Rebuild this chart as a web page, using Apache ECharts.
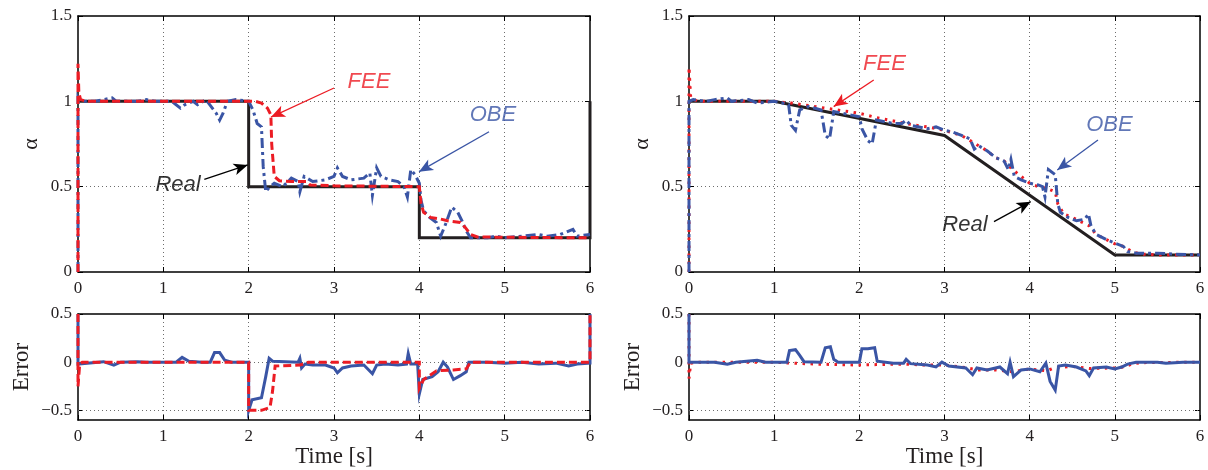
<!DOCTYPE html>
<html>
<head>
<meta charset="utf-8">
<script src="https://cdn.jsdelivr.net/npm/echarts@6/dist/echarts.min.js"></script>
<style>
  html, body { margin: 0; padding: 0; background: #fff; }
  #chart { width: 1208px; height: 470px; }
</style>
</head>
<body>
<div id="chart"></div>
<script>
// ---- tick values ----
const timeTicks = [0, 1, 2, 3, 4, 5, 6];
const alphaTicks = [0, 0.5, 1, 1.5];
const errorTicks = [-0.5, 0, 0.5];
const errorRange = [-0.6, 0.5];

// ---- step reference (left column) ----
const stepRealT = [0, 2, 2, 4, 4, 6, 6];
const stepRealV = [1, 1, 0.5, 0.5, 0.2, 0.2, 1];

const stepFeeT = [0, 0, 0.01, 0.03, 0.1, 2.08, 2.15, 2.22, 2.26, 2.27, 2.3, 2.36, 2.5, 2.68, 2.72, 3.0, 4.0, 4.02, 4.05, 4.13, 4.25, 4.33, 4.48, 4.54, 4.6, 4.68, 6];
const stepFeeV = [0, 1.22, 1.05, 1.01, 1.0, 1.0, 0.99, 0.96, 0.92, 0.75, 0.56, 0.535, 0.53, 0.53, 0.51, 0.505, 0.5, 0.4, 0.35, 0.32, 0.31, 0.3, 0.29, 0.26, 0.22, 0.205, 0.2];

const stepObeT = [0, 0, 0.02, 0.2, 0.3, 0.4, 0.45, 0.7, 0.8, 0.9, 1.1, 1.2, 1.25, 1.35, 1.4, 1.5, 1.62, 1.66, 1.7, 1.75, 1.85, 2.0, 2.05, 2.1, 2.15, 2.17, 2.2, 2.25, 2.3, 2.4, 2.5, 2.58, 2.6, 2.65, 2.75, 2.9, 3.0, 3.04, 3.1, 3.2, 3.35, 3.42, 3.45, 3.5, 3.55, 3.65, 3.75, 3.82, 3.86, 3.9, 3.95, 4.0, 4.02, 4.05, 4.12, 4.2, 4.25, 4.3, 4.38, 4.45, 4.5, 4.55, 4.6, 4.8, 4.9, 5.0, 5.2, 5.4, 5.5, 5.65, 5.8, 5.85, 6.0];
const stepObeV = [0, 1.02, 1.0, 1.0, 1.01, 1.02, 1.0, 1.0, 1.01, 1.0, 1.0, 0.96, 0.98, 1.0, 0.98, 1.01, 0.93, 0.89, 0.93, 1.0, 1.01, 1.0, 0.95, 0.87, 0.85, 0.62, 0.47, 0.5, 0.52, 0.5, 0.55, 0.53, 0.47, 0.56, 0.53, 0.54, 0.56, 0.61, 0.56, 0.54, 0.55, 0.58, 0.45, 0.61, 0.56, 0.54, 0.53, 0.5, 0.44, 0.6, 0.57, 0.52, 0.42, 0.36, 0.32, 0.29, 0.21, 0.27, 0.38, 0.35, 0.3, 0.24, 0.2, 0.2, 0.21, 0.2, 0.21, 0.22, 0.21, 0.22, 0.25, 0.21, 0.22];

const stepErrFeeT = [0, 0, 0.02, 0.05, 2.0, 2.0, 2.15, 2.25, 2.28, 2.31, 2.6, 2.7, 4.0, 4.0, 4.05, 4.2, 4.4, 4.55, 4.6, 6, 6];
const stepErrFeeV = [0.5, -0.25, -0.02, 0, 0, -0.5, -0.5, -0.47, -0.3, -0.04, -0.03, 0, 0, -0.27, -0.18, -0.09, -0.08, -0.07, 0, 0, 0.5];

const stepErrObeT = [0, 0, 0.02, 0.3, 0.42, 0.5, 0.7, 0.8, 1.0, 1.15, 1.22, 1.3, 1.45, 1.55, 1.6, 1.66, 1.72, 1.8, 2.0, 2.0, 2.04, 2.15, 2.2, 2.24, 2.28, 2.3, 2.58, 2.6, 2.62, 2.66, 2.75, 2.9, 3.0, 3.04, 3.1, 3.2, 3.35, 3.45, 3.5, 3.6, 3.75, 3.85, 3.87, 3.9, 3.98, 4.0, 4.04, 4.15, 4.22, 4.28, 4.33, 4.4, 4.48, 4.55, 4.58, 4.8, 5.0, 5.2, 5.4, 5.6, 5.75, 5.85, 6.0, 6.0];
const stepErrObeV = [0.5, -0.02, 0, 0.005, -0.03, 0, 0.005, 0, 0, 0, 0.05, 0.01, 0, 0, 0.1, 0.1, 0.02, 0, 0, -0.5, -0.39, -0.37, -0.15, 0.04, 0.01, 0, 0, 0.04, -0.06, -0.02, -0.03, -0.03, -0.06, -0.11, -0.06, -0.04, -0.03, -0.12, -0.03, -0.02, -0.03, -0.02, 0.09, -0.02, -0.02, -0.33, -0.18, -0.15, -0.1, 0.0, -0.05, -0.18, -0.14, -0.1, 0, 0, -0.01, 0, -0.02, -0.01, -0.04, -0.02, -0.01, 0.5];

// ---- ramp reference (right column) ----
const rampRealT = [0, 1, 3, 5, 6];
const rampRealV = [1, 1, 0.8, 0.1, 0.1];

const rampFeeT = [0, 0, 0.02, 0.1, 1.0, 1.2, 1.4, 1.6, 1.8, 2.0, 2.2, 2.4, 2.6, 2.8, 3.0, 3.2, 3.4, 3.5, 3.6, 3.7, 3.8, 3.9, 4.0, 4.1, 4.2, 4.3, 4.33, 4.4, 4.5, 4.62, 4.7, 4.78, 4.9, 5.0, 5.1, 5.2, 5.3, 5.5, 6.0];
const rampFeeV = [0, 1.2, 1.02, 1.0, 1.0, 0.99, 0.975, 0.96, 0.945, 0.93, 0.905, 0.885, 0.865, 0.85, 0.83, 0.8, 0.74, 0.71, 0.67, 0.65, 0.6, 0.56, 0.52, 0.5, 0.49, 0.47, 0.4, 0.34, 0.32, 0.29, 0.27, 0.22, 0.19, 0.165, 0.15, 0.12, 0.105, 0.1, 0.1];

const rampObeT = [0, 0, 0.05, 0.2, 0.3, 0.45, 0.5, 0.7, 0.8, 1.0, 1.1, 1.17, 1.2, 1.25, 1.3, 1.4, 1.55, 1.6, 1.65, 1.7, 1.8, 2.0, 2.03, 2.1, 2.15, 2.2, 2.4, 2.5, 2.55, 2.6, 2.8, 2.9, 3.0, 3.1, 3.2, 3.3, 3.35, 3.4, 3.5, 3.6, 3.7, 3.75, 3.78, 3.82, 3.9, 4.0, 4.1, 4.15, 4.18, 4.22, 4.3, 4.32, 4.33, 4.36, 4.45, 4.55, 4.65, 4.69, 4.72, 4.78, 4.9, 5.0, 5.1, 5.15, 5.25, 5.5, 5.7, 6.0];
const rampObeV = [0, 1.0, 1.01, 1.0, 1.01, 1.02, 1.0, 1.01, 0.99, 1.0, 0.99, 0.98, 0.86, 0.83, 0.95, 0.97, 0.95, 0.8, 0.78, 0.94, 0.93, 0.91, 0.84, 0.77, 0.75, 0.89, 0.87, 0.87, 0.89, 0.86, 0.84, 0.85, 0.83, 0.82, 0.8, 0.78, 0.72, 0.74, 0.71, 0.67, 0.65, 0.6, 0.66, 0.56, 0.54, 0.52, 0.51, 0.5, 0.44, 0.6, 0.57, 0.58, 0.4, 0.35, 0.32, 0.3, 0.31, 0.34, 0.27, 0.22, 0.19, 0.17, 0.15, 0.12, 0.11, 0.11, 0.105, 0.1];

const rampErrFeeT = [0, 0, 0.02, 0.1, 1.0, 1.2, 1.5, 2.0, 2.2, 2.5, 2.8, 3.0, 3.2, 3.4, 3.6, 3.8, 4.0, 4.2, 4.3, 4.5, 4.7, 5.0, 5.1, 5.2, 5.3, 6.0];
const rampErrFeeV = [0.5, -0.17, -0.01, 0, 0, -0.01, -0.02, -0.03, -0.025, -0.02, -0.03, -0.03, -0.05, -0.08, -0.08, -0.1, -0.07, -0.09, -0.055, -0.045, -0.065, -0.06, -0.05, -0.02, -0.005, 0];

const rampErrObeT = [0, 0, 0.3, 0.45, 0.55, 0.8, 0.9, 1.15, 1.18, 1.25, 1.3, 1.35, 1.55, 1.6, 1.66, 1.7, 1.75, 2.0, 2.03, 2.1, 2.18, 2.21, 2.4, 2.52, 2.55, 2.6, 2.8, 2.9, 2.97, 3.05, 3.25, 3.33, 3.38, 3.5, 3.65, 3.74, 3.77, 3.81, 3.9, 4.0, 4.12, 4.19, 4.24, 4.3, 4.34, 4.42, 4.55, 4.66, 4.7, 4.75, 4.9, 5.0, 5.08, 5.15, 5.25, 5.5, 5.6, 5.8, 6.0];
const rampErrObeV = [0.5, 0, 0, -0.02, 0, 0.02, 0, 0, 0.12, 0.13, 0.07, 0.005, 0, 0.15, 0.16, 0.03, 0, 0, 0.14, 0.14, 0.15, 0.01, -0.01, -0.01, 0.03, -0.015, -0.03, -0.05, 0.0, -0.04, -0.06, -0.13, -0.06, -0.08, -0.05, -0.12, 0.0, -0.15, -0.08, -0.07, -0.1, -0.01, -0.2, -0.29, -0.04, -0.03, -0.05, -0.09, -0.14, -0.06, -0.05, -0.07, -0.05, -0.02, 0, 0, -0.01, 0, 0];

// ---- styling ----
const INK = '#231f20';
const RED = '#ec1c24';
const BLUE = '#3a55a5';
const SERIF = 'Liberation Serif';
const SANS = 'Liberation Sans';
const gridLineStyle = { color: '#6d6d6d', width: 1, type: [1, 3] };
const dashed = [8, 4];
const dashDot = [10, 4, 3, 4];
const dotted = [2.5, 5.5];

const panels = [
  { left: 78, top: 16, width: 512, height: 256 },
  { left: 689, top: 16, width: 511, height: 256 },
  { left: 78, top: 314, width: 512, height: 106 },
  { left: 689, top: 314, width: 511, height: 106 }
];

const pairs = (t, v) => t.map((x, i) => [x, v[i]]);
const minusSign = (v) => String(v).replace('-', '\u2212');

const boxLine = { show: true, onZero: false, lineStyle: { color: '#000', width: 1.5 } };
const innerTick = (custom) => ({ show: true, inside: true, length: 5, customValues: custom, lineStyle: { color: '#000', width: 1 } });
const tickFont = { color: INK, fontFamily: SERIF, fontSize: 17 };
const nameFont = { color: INK, fontFamily: SERIF, fontSize: 23 };

const xAxes = [];
const yAxes = [];
panels.forEach((p, gi) => {
  const lower = gi >= 2;
  const base = { type: 'value', gridIndex: gi, min: timeTicks[0], max: timeTicks[timeTicks.length - 1], interval: timeTicks[1] - timeTicks[0] };
  xAxes.push(Object.assign({}, base, {
    position: 'bottom', axisLine: boxLine, axisTick: innerTick(),
    axisLabel: Object.assign({ margin: 8 }, tickFont),
    splitLine: { show: true, showMinLine: false, showMaxLine: false, lineStyle: gridLineStyle },
    name: lower ? 'Time [s]' : '', nameLocation: 'middle', nameGap: 24, nameTextStyle: nameFont
  }));
  xAxes.push(Object.assign({}, base, {
    position: 'top', axisLine: boxLine, axisTick: innerTick(),
    axisLabel: { show: false }, splitLine: { show: false }
  }));
  const ticks = lower ? errorTicks : alphaTicks;
  const yBase = lower
    ? { type: 'value', gridIndex: gi, min: errorRange[0], max: errorRange[1] }
    : { type: 'value', gridIndex: gi, min: alphaTicks[0], max: alphaTicks[alphaTicks.length - 1], interval: alphaTicks[1] - alphaTicks[0] };
  yAxes.push(Object.assign({}, yBase, {
    position: 'left', axisLine: boxLine, axisTick: innerTick(ticks),
    axisLabel: Object.assign({ margin: 6, customValues: ticks, formatter: minusSign }, tickFont),
    // error panels get their horizontal grid from the tick list below
    splitLine: { show: !lower, showMinLine: false, showMaxLine: false, lineStyle: gridLineStyle },
    name: lower ? 'Error' : '\u03b1', nameLocation: 'middle', nameRotate: 90,
    nameGap: lower ? 45 : 36,
    nameTextStyle: lower ? nameFont : Object.assign({}, nameFont, { fontSize: 22 })
  }));
  yAxes.push(Object.assign({}, yBase, {
    position: 'right', axisLine: boxLine, axisTick: innerTick(ticks),
    axisLabel: { show: false }, splitLine: { show: false }
  }));
});

function line(gi, name, t, v, color, type, width) {
  return {
    type: 'line', name, xAxisIndex: gi * 2, yAxisIndex: gi * 2, z: 2,
    data: pairs(t, v), symbol: 'none', clip: true, silent: true,
    lineStyle: { color, width: width || 3, type, cap: 'butt', join: 'miter' }
  };
}

// dotted horizontal grid for the error panels, at the inner tick values
function errorGrid(gi) {
  return {
    type: 'line', xAxisIndex: gi * 2, yAxisIndex: gi * 2, data: [], silent: true, z: 1,
    markLine: {
      silent: true, symbol: ['none', 'none'], z: 1, animation: false,
      label: { show: false }, lineStyle: gridLineStyle,
      data: errorTicks.filter(v => v > errorRange[0] && v < errorRange[1]).map(v => ({ yAxis: v }))
    }
  };
}

// Labels and arrows pointing at the curves, placed in data space
const notes = [
  { gi: 0, text: 'FEE', color: RED, at: [3.41, 1.113], from: [3.0, 1.078], to: [2.262, 0.908] },
  { gi: 0, text: 'OBE', color: BLUE, at: [4.863, 0.92], from: [4.817, 0.822], to: [3.996, 0.588] },
  { gi: 0, text: 'Real', color: '#000', at: [1.172, 0.51], from: [1.48, 0.543], to: [1.989, 0.627] },
  { gi: 1, text: 'FEE', color: RED, at: [2.295, 1.222], from: [2.169, 1.125], to: [1.699, 0.969] },
  { gi: 1, text: 'OBE', color: BLUE, at: [4.937, 0.861], from: [4.802, 0.773], to: [4.324, 0.598] },
  { gi: 1, text: 'Real', color: '#000', at: [3.24, 0.275], from: [3.581, 0.295], to: [4.012, 0.412] }
];

function noteSeries(gi) {
  const mine = notes.filter(n => n.gi === gi);
  return {
    type: 'scatter', xAxisIndex: gi * 2, yAxisIndex: gi * 2, symbolSize: 0, silent: true, z: 5,
    data: mine.map(n => ({
      name: n.text, value: n.at,
      label: { show: true, position: 'inside', formatter: '{b}', color: n.color, fontFamily: SANS, fontStyle: 'italic', fontSize: 22 }
    })),
    markLine: {
      silent: true, symbol: ['none', 'arrow'], symbolSize: [9, 14], animation: false,
      label: { show: false },
      data: mine.map(n => [
        { coord: n.from, lineStyle: { color: n.color, width: 1.3, type: 'solid' } },
        { coord: n.to }
      ])
    }
  };
}

const series = [
  line(0, 'Real', stepRealT, stepRealV, INK, 'solid'),
  line(0, 'OBE', stepObeT, stepObeV, BLUE, dashDot),
  line(0, 'FEE', stepFeeT, stepFeeV, RED, dashed),
  noteSeries(0),
  line(1, 'Real', rampRealT, rampRealV, INK, 'solid'),
  line(1, 'FEE', rampFeeT, rampFeeV, RED, dotted),
  line(1, 'OBE', rampObeT, rampObeV, BLUE, dashDot),
  noteSeries(1),
  errorGrid(2),
  line(2, 'OBE', stepErrObeT, stepErrObeV, BLUE, 'solid'),
  line(2, 'FEE', stepErrFeeT, stepErrFeeV, RED, dashed),
  errorGrid(3),
  line(3, 'FEE', rampErrFeeT, rampErrFeeV, RED, dotted),
  line(3, 'OBE', rampErrObeT, rampErrObeV, BLUE, 'solid')
];

const chart = echarts.init(document.getElementById('chart'), null, { renderer: 'canvas' });
chart.setOption({
  animation: false,
  backgroundColor: '#fff',
  grid: panels.map(p => Object.assign({ containLabel: false }, p)),
  xAxis: xAxes,
  yAxis: yAxes,
  series
});
</script>
</body>
</html>
